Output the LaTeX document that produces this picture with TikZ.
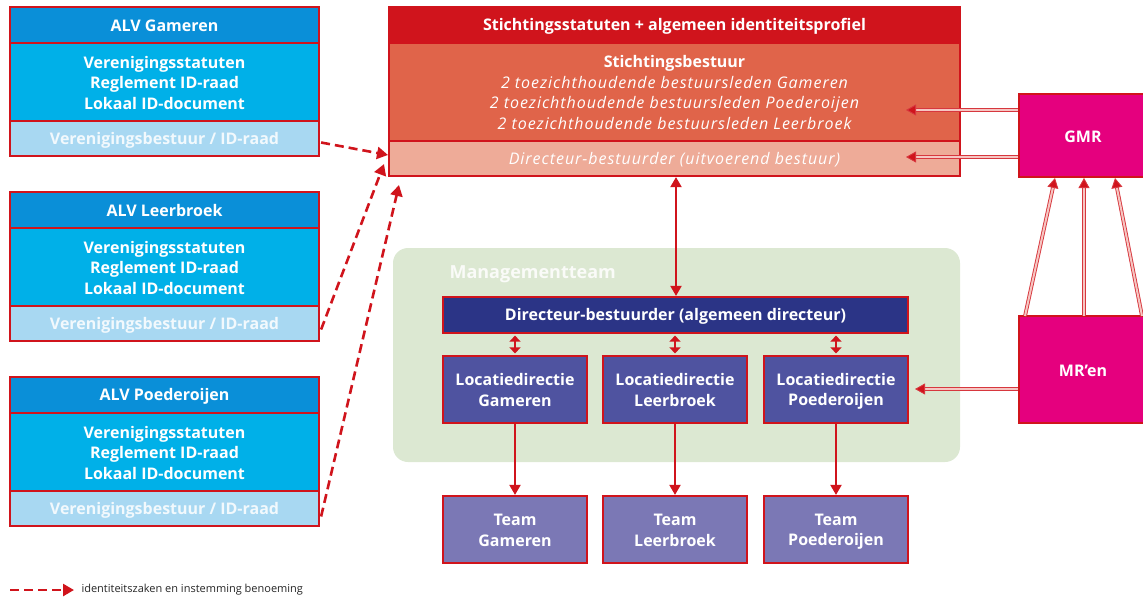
\documentclass[tikz,border=0pt]{standalone}
\usepackage{fontspec}
\setmainfont{Open Sans}
\usetikzlibrary{arrows.meta}
\definecolor{rd}{HTML}{D0141C}
\definecolor{alvhead}{HTML}{0A8FD8}
\definecolor{alvmid}{HTML}{00B0E8}
\definecolor{alvbot}{HTML}{A8D8F2}
\definecolor{sthead}{HTML}{D0141C}
\definecolor{stmid}{HTML}{E0644A}
\definecolor{stbot}{HTML}{EEAB98}
\definecolor{mag}{HTML}{E5007E}
\definecolor{grn}{HTML}{DCE8D2}
\definecolor{navy}{HTML}{2B3486}
\definecolor{loc}{HTML}{4F53A0}
\definecolor{team}{HTML}{7B78B5}
\definecolor{pinkline}{HTML}{F6C6C2}
\newcommand{\itl}{\itshape\addfontfeatures{LetterSpace=6}}
\newcommand{\cs}{\rule[-2.5pt]{0pt}{18pt}}
\tikzset{
  cell/.style={draw=rd, line width=2.2pt, inner sep=0pt, text=white, align=center,
    font=\fontsize{16}{20.5}\selectfont\bfseries},
  alvh/.style={cell, fill=alvhead, minimum width=309pt, minimum height=36pt},
  alvm/.style={cell, fill=alvmid, minimum width=309pt, minimum height=78pt},
  alvb/.style={cell, fill=alvbot, minimum width=309pt, minimum height=35pt},
  magbox/.style={cell, fill=mag, minimum width=128pt},
  locbox/.style={cell, fill=loc, minimum width=144pt, minimum height=67pt},
  teambox/.style={cell, fill=team, minimum width=144pt, minimum height=67pt},
  arr/.style={draw=rd, line width=2pt, -{Triangle[length=10pt,width=11pt]}},
  darr/.style={draw=rd, line width=2pt, {Triangle[length=10pt,width=11pt]}-{Triangle[length=10pt,width=11pt]}},
  sarr/.style={draw=rd, line width=1.8pt, {Triangle[length=6pt,width=11pt]}-{Triangle[length=6pt,width=11pt]}, shorten <=1.5pt, shorten >=1.5pt},
  dbl/.style={draw=rd!85, line width=0.9pt, double=pinkline, double distance=2pt, -{Triangle[length=10pt,width=11pt,fill=rd]}},
  dasharr/.style={draw=rd, line width=2.6pt, dash pattern=on 9pt off 5pt, -{Triangle[length=11pt,width=12pt]}},
}
\begin{document}
\begin{tikzpicture}[x=1pt,y=-1pt]
\useasboundingbox (0,0) rectangle (1143,598);
% green management area
\fill[grn, rounded corners=15pt] (393,248) rectangle (960,462);
\node[anchor=west, text=white!85!grn, font=\fontsize{18}{20}\selectfont\bfseries] (mt) at (446,274) {Managementteam};

% ALV boxes
\foreach \n/\name/\dy in {g/Gameren/0, l/Leerbroek/185, p/Poederoijen/370}{
  \node[alvm] (\n m) at (164.5,82+\dy) {\cs Verenigingsstatuten\\Reglement ID-raad\\Lokaal ID-document\cs};
  \node[alvh] (\n h) at (164.5,25+\dy) {\cs ALV \name\cs};
  \node[alvb, text=white!85!alvbot] (\n b) at (164.5,138.5+\dy) {\cs Verenigingsbestuur / ID-raad\cs};
}

% Stichting
\node[cell, fill=stmid, minimum width=571pt, minimum height=98pt, font=\fontsize{16}{20.5}\selectfont] (sm) at (674.5,92)
  {\cs\textbf{Stichtingsbestuur}\\\itl 2 toezichthoudende bestuursleden Gameren\\\itl 2 toezichthoudende bestuursleden Poederoijen\\\itl 2 toezichthoudende bestuursleden Leerbroek\cs};
\node[cell, fill=sthead, minimum width=571pt, minimum height=36pt] (sh) at (674.5,25) {\cs Stichtingsstatuten + algemeen identiteitsprofiel\cs};
\node[cell, fill=stbot, minimum width=571pt, minimum height=35pt, font=\fontsize{16}{20.5}\selectfont\itl] (sb) at (674.5,158.5) {\cs Directeur-bestuurder (uitvoerend bestuur)\cs};

% GMR and MR'en
\node[magbox, minimum height=83pt] (gmr) at (1083,135.5) {\cs GMR\cs};
\node[magbox, minimum height=107pt] (mr) at (1083,369.5) {\cs MR’en\cs};

% Management
\node[cell, fill=navy, minimum width=465pt, minimum height=36pt] (dir) at (675.5,315) {\cs Directeur-bestuurder (algemeen directeur)\cs};
\node[locbox] (lg) at (515,389.5) {\cs Locatiedirectie\\Gameren\cs};
\node[locbox] (ll) at (675,389.5) {\cs Locatiedirectie\\Leerbroek\cs};
\node[locbox] (lp) at (836,389.5) {\cs Locatiedirectie\\Poederoijen\cs};
\node[teambox] (tg) at (515,529.5) {\cs Team\\Gameren\cs};
\node[teambox] (tl) at (675,529.5) {\cs Team\\Leerbroek\cs};
\node[teambox] (tp) at (836,529.5) {\cs Team\\Poederoijen\cs};

% connectors
\draw[darr] (sb.south -| 676,0) -- (dir.north -| 676,0);
\draw[sarr] (dir.south -| lg) -- (lg.north);
\draw[sarr] (dir.south -| ll) -- (ll.north);
\draw[sarr] (dir.south -| lp) -- (lp.north);
\draw[arr] (lg.south) -- (tg.north);
\draw[arr] (ll.south) -- (tl.north);
\draw[arr] (lp.south) -- (tp.north);
% GMR -> Stichting
\coordinate (s1) at (906,110);
\coordinate (s2) at (906,157);
\draw[dbl] (gmr.west |- s1) -- (s1);
\draw[dbl] (gmr.west |- s2) -- (s2);
% MR'en -> GMR
\draw[dbl] (1025,316) -- (1055,178);
\draw[dbl] (1084,316) -- (1084,178);
\draw[dbl] (1142,316) -- (1115,178);
% MR'en -> Locatiedirectie Poederoijen
\coordinate (m1) at (915,389);
\draw[dbl] (mr.west |- m1) -- (m1);
% dashed
\coordinate (d1) at (388,155);
\coordinate (d2) at (384,164);
\coordinate (d3) at (399,185);
\draw[dasharr] ([shift={(1,4)}]gb.east) -- (d1);
\draw[dasharr] ([shift={(1,6)}]lb.east) -- (d2);
\draw[dasharr] ([shift={(1,8)}]pb.east) -- (d3);

% legend
\coordinate (la) at (10,590);
\coordinate (lz) at (74,590);
\draw[dasharr] (la) -- (lz);
\node[anchor=west, text=black!85, font=\fontsize{11}{12}\selectfont] (lt) at (78,590) {identiteitszaken en instemming benoeming};
\end{tikzpicture}
\end{document}
